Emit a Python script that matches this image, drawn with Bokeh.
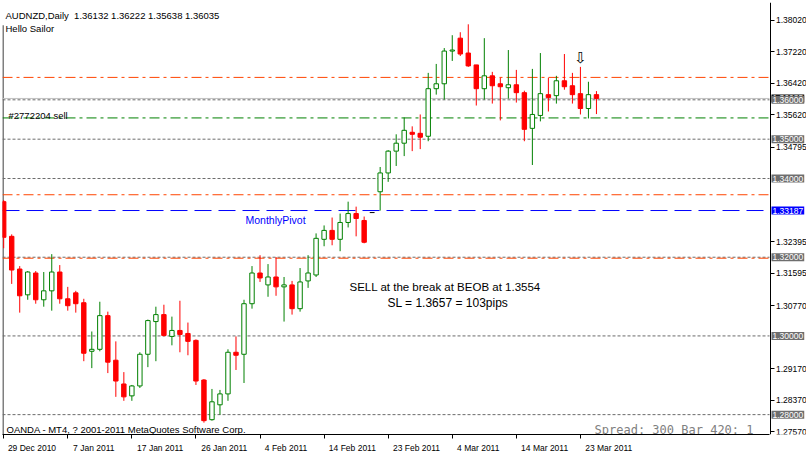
import numpy as np
from bokeh.plotting import figure
from bokeh.models import Range1d, FixedTicker, Label, ColumnDataSource, PrintfTickFormatter
from bokeh.embed import file_html
from bokeh.resources import INLINE
from bokeh.core.properties import value

# ---------------- data ----------------
symbol = "AUDNZD"
period = "Daily"

opens = [1.33412, 1.32531, 1.31700, 1.31045, 1.31599, 1.30919, 1.31146, 1.31624, 1.30944, 1.31095,
         1.30844, 1.29610, 1.29660, 1.30516, 1.29383, 1.28779, 1.28477, 1.28729, 1.29534, 1.30365,
         1.30542, 1.29988, 1.30139, 1.30063, 1.29887, 1.28880, 1.27872, 1.28250, 1.28527, 1.29585,
         1.29534, 1.30819, 1.31599, 1.31297, 1.31498, 1.31247, 1.31297, 1.30693, 1.31398, 1.31549,
         1.32455, 1.32682, 1.32455, 1.32883, 1.33110, 1.32934, 1.33135, 1.33664, 1.34142, 1.34696,
         1.34898, 1.35175, 1.35149, 1.35074, 1.36283, 1.36408, 1.37239, 1.37567, 1.37189, 1.36887,
         1.36283, 1.36610, 1.36408, 1.36308, 1.36383, 1.36182, 1.35275, 1.35603, 1.36131, 1.36106,
         1.36484, 1.36358, 1.36157, 1.35779, 1.36132]
highs = [1.33450, 1.32581, 1.31775, 1.31649, 1.31649, 1.31624, 1.32078, 1.31801, 1.31247, 1.31146,
         1.30944, 1.30113, 1.30869, 1.30617, 1.29862, 1.29081, 1.28754, 1.29585, 1.30416, 1.30743,
         1.30793, 1.30491, 1.30894, 1.30340, 1.29912, 1.28905, 1.28653, 1.28628, 1.29660, 1.29988,
         1.30919, 1.31775, 1.32052, 1.31826, 1.32002, 1.31498, 1.31398, 1.31725, 1.32052, 1.32606,
         1.32808, 1.33009, 1.33110, 1.33412, 1.33286, 1.33034, 1.33135, 1.34293, 1.34721, 1.35124,
         1.35552, 1.35326, 1.35628, 1.36685, 1.36912, 1.37315, 1.37642, 1.37718, 1.37919, 1.36887,
         1.37567, 1.36711, 1.36560, 1.37265, 1.36761, 1.36232, 1.36786, 1.37189, 1.36560, 1.36610,
         1.37164, 1.36685, 1.36837, 1.36459, 1.36222]
lows = [1.32229, 1.31322, 1.30592, 1.30919, 1.30819, 1.30743, 1.30642, 1.30819, 1.30642, 1.30592,
        1.29358, 1.29182, 1.29610, 1.29056, 1.28452, 1.28351, 1.28351, 1.28678, 1.29207, 1.29358,
        1.29988, 1.29761, 1.29585, 1.29509, 1.28754, 1.27797, 1.27847, 1.27998, 1.28351, 1.29135,
        1.28804, 1.30693, 1.31372, 1.30995, 1.31020, 1.30365, 1.30542, 1.30617, 1.31221, 1.31498,
        1.32279, 1.32304, 1.32153, 1.32757, 1.32531, 1.32354, 1.33135, 1.33185, 1.33916, 1.34319,
        1.34570, 1.34696, 1.34747, 1.34948, 1.36132, 1.36006, 1.36988, 1.37114, 1.36837, 1.35855,
        1.36006, 1.35905, 1.35477, 1.36031, 1.35930, 1.34948, 1.34344, 1.35452, 1.35703, 1.35905,
        1.36257, 1.35905, 1.35628, 1.35527, 1.35638]
closes = [1.32506, 1.31675, 1.31020, 1.31624, 1.30919, 1.31146, 1.31624, 1.30944, 1.30768, 1.30819,
          1.29560, 1.29660, 1.30516, 1.29333, 1.28854, 1.28452, 1.28729, 1.29534, 1.30390, 1.30542,
          1.30013, 1.30139, 1.30038, 1.29862, 1.28854, 1.27847, 1.28326, 1.28527, 1.29585, 1.29509,
          1.30819, 1.31599, 1.31473, 1.31498, 1.31247, 1.31297, 1.30693, 1.31372, 1.31599, 1.32480,
          1.32682, 1.32455, 1.32883, 1.33110, 1.32984, 1.32380, 1.33135, 1.34142, 1.34696, 1.34898,
          1.35225, 1.35124, 1.35049, 1.36283, 1.36408, 1.37239, 1.37265, 1.37164, 1.36862, 1.36283,
          1.36610, 1.36358, 1.36333, 1.36383, 1.36182, 1.35250, 1.35628, 1.36157, 1.36056, 1.36484,
          1.36333, 1.36131, 1.35779, 1.36131, 1.36035]

date_tick_bars = [0, 8, 16, 24, 32, 40, 48, 56, 64, 72]
date_tick_labels = ["29 Dec 2010", "7 Jan 2011", "17 Jan 2011", "26 Jan 2011", "4 Feb 2011",
                    "14 Feb 2011", "23 Feb 2011", "4 Mar 2011", "14 Mar 2011", "23 Mar 2011"]

price_ticks = [1.38020, 1.37220, 1.36420, 1.35620, 1.34795, 1.32395,
               1.31595, 1.30770, 1.29170, 1.28370, 1.27570]

round_levels = [1.36000, 1.35000, 1.34000, 1.32000, 1.30000, 1.28000]
orange_levels = [1.36570, 1.33588, 1.31975]
entry_level = 1.35540
entry_label = "#2772204 sell"
monthly_pivot = 1.33187
signal_bar = 72

note_line1 = "SELL at the break at BEOB at 1.3554"
note_line2 = "SL = 1.3657 = 103pips"
comment_line = "Hello Sailor"
copyright_text = "OANDA - MT4, ? 2001-2011 MetaQuotes Software Corp."
status_text = "Spread: 300 Bar 420: 1"

# ---------------- layout / style ----------------
W, H = 806, 455
FRAME_L, FRAME_T, FRAME_B = 2, 2, 438     # plotting frame (canvas px); frame runs to right edge
SCALE_X = 769                             # price-scale line position (canvas px)
BAR_PX = 8.01
PRICE_PX = 3971.6
x_start = (FRAME_L - 3.2) / BAR_PX        # bar 0 centred at canvas x = 3.2
x_end = x_start + (W - FRAME_L) / BAR_PX
y_end = 1.38020 + (20 - FRAME_T) / PRICE_PX
y_start = y_end - (FRAME_B - FRAME_T) / PRICE_PX


def dx(px):
    return x_start + (px - FRAME_L) / BAR_PX


def dy(py):
    return y_end - (py - FRAME_T) / PRICE_PX


GREEN = "#008000"
RED = "#FF0000"
ORANGE = "#FF4500"
GRAY = "#6B6B6B"
BLUE = "#0000FF"
FONT = "Liberation Sans"

p = figure(width=W, height=H, output_backend="svg", toolbar_location=None,
           x_range=Range1d(x_start, x_end), y_range=Range1d(y_start, y_end),
           y_axis_location="right",
           min_border_left=FRAME_L, min_border_right=0,
           min_border_top=FRAME_T, min_border_bottom=H - FRAME_B)
p.grid.visible = False
p.background_fill_color = "white"
p.border_fill_color = "white"
p.outline_line_color = None

# chart left border (hidden behind the header block at the top)
p.segment(x0=[dx(2.5)], x1=[dx(2.5)], y0=[dy(25)], y1=[y_start], line_color="black", line_width=1)

# ---------------- horizontal levels ----------------
level_end = dx(SCALE_X)
p.segment(x0=[x_start] * len(round_levels), x1=[level_end] * len(round_levels),
          y0=round_levels, y1=round_levels, line_color=GRAY, line_width=1, line_dash="3 2")
p.segment(x0=[x_start] * len(orange_levels), x1=[level_end] * len(orange_levels),
          y0=orange_levels, y1=orange_levels, line_color=ORANGE, line_width=1, line_dash="10 4 3 4")
p.segment(x0=[x_start], x1=[level_end], y0=[entry_level], y1=[entry_level],
          line_color=GREEN, line_width=1, line_dash="10 4 3 4")
p.segment(x0=[x_start], x1=[level_end], y0=[monthly_pivot], y1=[monthly_pivot],
          line_color=BLUE, line_width=1, line_dash="17 7")
p.segment(x0=[x_start], x1=[level_end], y0=[closes[-1]], y1=[closes[-1]],
          line_color="#C0C0C0", line_width=1)

# ---------------- candles ----------------
o = np.array(opens); h = np.array(highs); l = np.array(lows); c = np.array(closes)
idx = np.arange(len(o))
up = c > o
dn = c < o
flat = c == o
col = np.where(up, GREEN, np.where(dn, RED, "black"))
fill = np.where(up, "white", np.where(dn, RED, "black"))

src = ColumnDataSource(dict(x=idx.tolist(), h=h.tolist(), l=l.tolist(), color=col.tolist()))
p.segment(x0="x", y0="l", x1="x", y1="h", line_color="color", line_width=1, source=src)

body = ~flat
bsrc = ColumnDataSource(dict(x=idx[body].tolist(), top=np.maximum(o, c)[body].tolist(),
                             bottom=np.minimum(o, c)[body].tolist(),
                             color=col[body].tolist(), fill=fill[body].tolist()))
p.vbar(x="x", width=0.55, top="top", bottom="bottom", fill_color="fill", line_color="color",
       line_width=1, source=bsrc)

fsrc = ColumnDataSource(dict(x0=(idx[flat] - 0.3).tolist(), x1=(idx[flat] + 0.3).tolist(),
                             y=c[flat].tolist()))
p.segment(x0="x0", y0="y", x1="x1", y1="y", line_color="black", line_width=1, source=fsrc)

# signal arrow above the signal bar
p.text(x=[idx[signal_bar]], y=[h[signal_bar]], text=["\u21e9"], text_align="center",
       text_baseline="bottom", y_offset=0, text_font=value("DejaVu Sans"),
       text_font_size="15px", text_color="black")

# ---------------- axes ----------------
label_pos = [round(b + (3 + 0.5 * len(t) * 4.6) / BAR_PX, 3) for b, t in zip(date_tick_bars, date_tick_labels)]
xa = p.xaxis[0]
xa.bounds = (x_start, dx(SCALE_X))
xa.ticker = FixedTicker(ticks=label_pos, minor_ticks=date_tick_bars)
xa.major_label_overrides = {pos: t for pos, t in zip(label_pos, date_tick_labels)}
xa.major_tick_line_color = None
xa.major_tick_out = 0
xa.major_tick_in = 0
xa.minor_tick_line_color = "black"
xa.minor_tick_out = 4
xa.minor_tick_in = 0
xa.axis_line_color = "black"
xa.major_label_text_font = FONT
xa.major_label_text_font_size = "8.5px"
xa.major_label_text_color = "black"
xa.major_label_standoff = 4

ya = p.yaxis[0]
ya.fixed_location = dx(SCALE_X + 0.5)
ya.ticker = FixedTicker(ticks=price_ticks)
ya.formatter = PrintfTickFormatter(format="%.5f")
ya.major_tick_out = 4
ya.major_tick_in = 0
ya.minor_tick_line_color = None
ya.axis_line_color = "black"
ya.major_label_text_font = FONT
ya.major_label_text_font_size = "8.5px"
ya.major_label_text_color = "black"
ya.major_label_standoff = 2

# price boxes on the right scale (bid box first, partly covered by the level box)
p.add_layout(Label(x=dx(771), y=closes[-1], text=f"{closes[-1]:.5f}", text_color="white",
                   text_font=FONT, text_font_size="8.5px", text_baseline="middle",
                   text_align="left", background_fill_color="black", padding=1))
for lv in round_levels:
    p.add_layout(Label(x=dx(771), y=lv, text=f"{lv:.5f}", text_color="white",
                       text_font=FONT, text_font_size="8.5px", text_baseline="middle",
                       text_align="left", background_fill_color="#6E6E6E", padding=1))
p.add_layout(Label(x=dx(771), y=monthly_pivot, text=f"{monthly_pivot:.5f}",
                   text_color="white", text_font=FONT, text_font_size="8.5px",
                   text_baseline="middle", text_align="left", background_fill_color=BLUE, padding=1))

# ---------------- texts ----------------
header = f"{symbol},{period}\u00a0 {opens[-1]:.5f} {highs[-1]:.5f} {lows[-1]:.5f} {closes[-1]:.5f}"
p.add_layout(Label(x=dx(5), y=dy(15), text=header, text_font=FONT, text_font_size="9.5px",
                   text_baseline="alphabetic", text_color="black"))
p.add_layout(Label(x=dx(5), y=dy(28), text=comment_line, text_font=FONT, text_font_size="9.5px",
                   text_baseline="alphabetic", text_color="black"))
p.add_layout(Label(x=dx(8), y=dy(116), text=entry_label, text_font=FONT, text_font_size="9.5px",
                   text_baseline="alphabetic", text_color="black"))
p.add_layout(Label(x=dx(245), y=dy(222), text="MonthlyPivot", text_font=FONT, text_font_size="10.5px",
                   text_baseline="alphabetic", text_color=BLUE))
p.add_layout(Label(x=dx(349), y=dy(289), text=note_line1, text_font=FONT, text_font_size="11.5px",
                   text_baseline="alphabetic", text_color="black"))
p.add_layout(Label(x=dx(387), y=dy(305), text=note_line2, text_font=FONT, text_font_size="12px",
                   text_baseline="alphabetic", text_color="black"))
p.add_layout(Label(x=dx(6), y=dy(433), text=copyright_text, text_font=FONT, text_font_size="9.5px",
                   text_baseline="alphabetic", text_color="black"))
p.add_layout(Label(x=dx(753), y=dy(433), text=status_text, text_font="DejaVu Sans Mono",
                   text_font_size="12px", text_baseline="alphabetic", text_align="right",
                   text_color="#808080"))

open("out.html", "w").write(file_html(p, INLINE))
